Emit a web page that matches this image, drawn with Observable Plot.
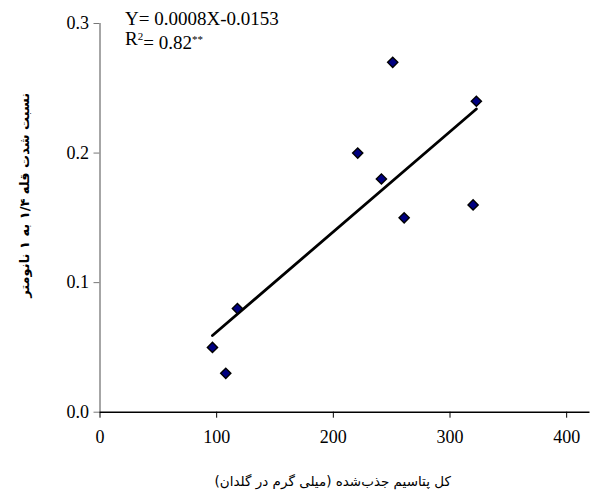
<!DOCTYPE html>
<html><head><meta charset="utf-8">
<script src="https://cdn.jsdelivr.net/npm/d3@7"></script>
<script src="https://cdn.jsdelivr.net/npm/@observablehq/plot@0.6"></script>
<style>body{margin:0;background:#fff}</style>
</head><body><div id="chart"></div>
<script>
const potassium = [96.4, 107.8, 117.8, 220.9, 241.2, 250.9, 260.7, 319.8, 322.6];
const ratio = [0.05, 0.03, 0.08, 0.20, 0.18, 0.27, 0.15, 0.16, 0.24];
const xTicks = [0, 100, 200, 300, 400];
const yTicks = [0, 0.1, 0.2, 0.3];
const eqLabel = "Y= 0.0008X-0.0153";
const r2Label = "R2= 0.82**";
const xLabel = "کل پتاسیم جذب‌شده (میلی گرم در گلدان)";
const yLabel = "نسبت شدت قله ۱/۴ به ۱ نانومتر";

const data = potassium.map((x, i) => ({x, y: ratio[i]}));
const serif = "Liberation Serif, Times New Roman, serif";
const arabic = "DejaVu Sans, sans-serif";

const chart = Plot.plot({
  width: 598, height: 500,
  marginLeft: 99.5, marginRight: 8.5, marginTop: 23, marginBottom: 88.3,
  style: {fontFamily: serif, background: "#fff"},
  x: {domain: [0, 420], axis: null},
  y: {domain: [0, 0.3], axis: null},
  marks: [
    Plot.axisX({ticks: xTicks, label: null, tickSize: 6, tickPadding: 12, tickFormat: d3.format("d"), fontSize: 18, stroke: "#000", fill: "#000"}),
    Plot.axisY({ticks: yTicks, label: null, tickSize: 6, tickPadding: 5, tickFormat: d3.format(".1f"), fontSize: 18, stroke: "#777", fill: "#000"}),
    Plot.ruleX([0], {stroke: "#888", strokeWidth: 1.5}),
    Plot.ruleY([0], {stroke: "#000", strokeWidth: 1.5}),
    Plot.linearRegressionY(data, {x: "x", y: "y", ci: 0, stroke: "#000", strokeWidth: 2.8}),
    Plot.dot(data, {x: "x", y: "y", symbol: "diamond2", r: 4.6, fill: "#000080", stroke: "#000", strokeWidth: 1.4}),
    Plot.text([eqLabel], {frameAnchor: "top-left", dx: 25, dy: -12, textAnchor: "start", lineAnchor: "top", fontSize: 19, fontFamily: serif, fill: "#000"}),
    Plot.text([r2Label], {frameAnchor: "top-left", dx: 25, dy: 8, textAnchor: "start", lineAnchor: "top", fontSize: 19, fontFamily: serif, fill: "#000"}),
    Plot.text([xLabel], {frameAnchor: "bottom", dx: -12, dy: 74, fontSize: 13.5, fontFamily: arabic, fill: "#000"}),
    Plot.text([yLabel], {frameAnchor: "left", dx: -75.5, dy: -22, rotate: -90, fontSize: 13, fontWeight: "bold", fontFamily: arabic, fill: "#000"})
  ]
});
document.getElementById("chart").appendChild(chart);

const svg = d3.select(chart);
svg.selectAll("text").each(function() {
  const t = this.textContent;
  if (t === r2Label) {
    const s = d3.select(this);
    s.text(null);
    s.append("tspan").text("R");
    s.append("tspan").attr("dy", "-0.45em").attr("font-size", 11).text("2");
    s.append("tspan").attr("dy", "0.45em").text("= 0.82");
    s.append("tspan").attr("dy", "-0.5em").attr("font-size", 11).text("**");
  }
  if (t === xLabel || t === yLabel) {
    // center the right-to-left label on its anchor
    const b = this.getBBox();
    const cur = +(this.getAttribute("x") || 0);
    this.setAttribute("x", cur - (b.x + b.width / 2));
  }
});
</script></body></html>
